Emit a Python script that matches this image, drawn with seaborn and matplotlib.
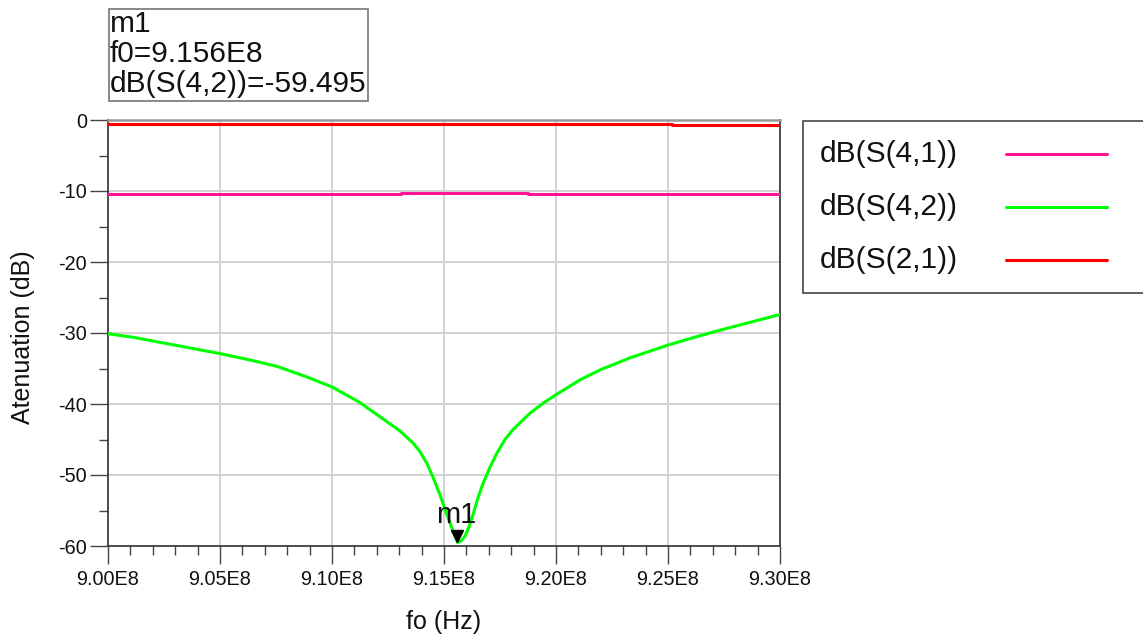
import matplotlib
matplotlib.use("Agg")
import matplotlib.pyplot as plt
from matplotlib.patches import Rectangle
from matplotlib.lines import Line2D
from matplotlib.ticker import MultipleLocator, FuncFormatter
import matplotlib.transforms as mtrans
import numpy as np
import pandas as pd
import seaborn as sns

# ---------------- data ----------------
freq_s42 = [9.0000e8, 9.01116e8, 9.02634e8, 9.0500e8, 9.06339e8, 9.07545e8, 9.08884e8,
            9.1000e8, 9.1125e8, 9.12143e8, 9.13036e8, 9.13616e8, 9.13929e8, 9.14241e8,
            9.14509e8, 9.14821e8, 9.15134e8, 9.15402e8, 9.1560e8, 9.15759e8, 9.15938e8,
            9.16116e8, 9.16295e8, 9.16518e8, 9.16741e8, 9.17054e8, 9.17366e8, 9.17723e8,
            9.18080e8, 9.18438e8, 9.18839e8, 9.19420e8, 9.20045e8, 9.21071e8, 9.21964e8,
            9.23304e8, 9.2500e8, 9.26295e8, 9.27321e8, 9.28661e8, 9.3000e8]
db_s42 = [-30.1, -30.6, -31.5, -32.9, -33.8, -34.7, -36.2,
          -37.6, -39.8, -41.8, -43.8, -45.5, -46.7, -48.4,
          -50.3, -52.8, -55.6, -57.9, -59.495, -59.3, -58.6,
          -57.3, -55.6, -53.2, -51.2, -48.9, -46.9, -45.0,
          -43.6, -42.5, -41.3, -39.9, -38.6, -36.6, -35.2,
          -33.5, -31.7, -30.5, -29.6, -28.5, -27.4]

freq_s41 = [9.000e8, 9.131e8, 9.1875e8, 9.300e8]
db_s41 = [-10.4, -10.25, -10.4, -10.4]

freq_s21 = [9.000e8, 9.252e8, 9.300e8]
db_s21 = [-0.55, -0.7, -0.7]

series_names = ["dB(S(4,1))", "dB(S(4,2))", "dB(S(2,1))"]
series_colors = ["#ff1493", "#00ff00", "#ff0000"]

marker_name = "m1"
marker_f = 9.156e8
marker_db = -59.495

x_ticks = [9.00e8, 9.05e8, 9.10e8, 9.15e8, 9.20e8, 9.25e8, 9.30e8]
y_ticks = [0, -10, -20, -30, -40, -50, -60]

# ---------------- style ----------------
sns.set_style("white")
plt.rcParams["font.family"] = ["Liberation Sans", "DejaVu Sans"]

W, H = 1143, 636
fig = plt.figure(figsize=(W / 100, H / 100), dpi=100)
ax = fig.add_axes([108 / W, 1 - 546 / H, (780 - 108) / W, (546 - 120) / H])

df42 = pd.DataFrame({"f": freq_s42, "db": db_s42})
df41 = pd.DataFrame({"f": freq_s41, "db": db_s41})
df21 = pd.DataFrame({"f": freq_s21, "db": db_s21})

sns.lineplot(data=df42, x="f", y="db", ax=ax, color=series_colors[1], lw=2.2, zorder=3)
sns.lineplot(data=df41, x="f", y="db", ax=ax, color=series_colors[0], lw=2.2,
             drawstyle="steps-post", zorder=3)
sns.lineplot(data=df21, x="f", y="db", ax=ax, color=series_colors[2], lw=2.2,
             drawstyle="steps-post", zorder=3)

ax.set_xlim(9.00e8, 9.30e8)
ax.set_ylim(-60, 0)
ax.set_xticks(x_ticks)
ax.set_yticks(y_ticks)
ax.xaxis.set_minor_locator(MultipleLocator(1e6))
ax.yaxis.set_minor_locator(MultipleLocator(5))
ax.xaxis.set_major_formatter(FuncFormatter(lambda v, p: f"{v / 1e8:.2f}E8"))
ax.yaxis.set_major_formatter(FuncFormatter(lambda v, p: f"{int(round(v))}"))

ax.grid(True, which="major", color="#cfcfcf", lw=1.3)
ax.set_axisbelow(True)

ax.tick_params(axis="both", which="both", bottom=True, left=True, top=False, right=False)
ax.tick_params(axis="both", which="major", direction="out", length=13, width=1.0,
               color="#444444", labelsize=14.3, labelcolor="#111111")
ax.tick_params(axis="both", which="minor", direction="out", length=6.5, width=1.0,
               color="#444444")
ax.tick_params(axis="x", which="major", pad=4.3)
ax.tick_params(axis="y", which="major", pad=2.2)

for side in ["left", "bottom", "right"]:
    ax.spines[side].set_color("#333333")
    ax.spines[side].set_linewidth(1.2)
ax.spines["top"].set_color("#999999")
ax.spines["top"].set_linewidth(1.8)

ax.set_xlabel("fo (Hz)", fontsize=18, color="#111111")
ax.set_ylabel("Atenuation (dB)", fontsize=18, color="#111111")
ax.xaxis.set_label_coords(0.5, -(622 - 546) / 426)
ax.xaxis.label.set_va("center")
ax.yaxis.set_label_coords(-(108 - 23) / 672, (546 - 337) / 426)
ax.yaxis.label.set_va("center")

# marker triangle (apex at the data point)
tri_tr = mtrans.offset_copy(ax.transData, fig=fig, x=0, y=6, units="dots")
ax.plot([marker_f], [marker_db], marker="v", markersize=8.6, color="black",
        transform=tri_tr, zorder=5, clip_on=False, ls="none")
lab_tr = mtrans.offset_copy(ax.transData, fig=fig, x=-1, y=19, units="dots")
ax.text(marker_f, marker_db, marker_name, transform=lab_tr, ha="center",
        va="baseline", fontsize=21, color="#111111", zorder=6)

# marker readout box
fig.add_artist(Rectangle((108.7 / W, 1 - 100.7 / H), (368.3 - 108.7) / W, 92 / H,
                         transform=fig.transFigure, fc="white", ec="#808080", lw=1.3))
readout = [marker_name, f"f0={marker_f / 1e8:.3f}E8", f"dB(S(4,2))={marker_db:.3f}"]
for i, line in enumerate(readout):
    fig.text(110 / W, 1 - (32 + 30 * i) / H, line, fontsize=21.5, va="baseline",
             ha="left", color="#111111")

# legend (text first, line after)
fig.add_artist(Rectangle((803 / W, 1 - 293 / H), 360 / W, 172 / H,
                         transform=fig.transFigure, fc="white", ec="#555555", lw=1.3))
row_y = [153.7, 206.7, 260.0]
for name, col, yy in zip(series_names, series_colors, row_y):
    fig.text(820 / W, 1 - yy / H, name, fontsize=21.5, va="center", ha="left",
             color="#111111")
    fig.add_artist(Line2D([1006 / W, 1107 / W], [1 - yy / H, 1 - yy / H],
                          transform=fig.transFigure, color=col, lw=2.2))

fig.savefig("out.png", dpi=100)
